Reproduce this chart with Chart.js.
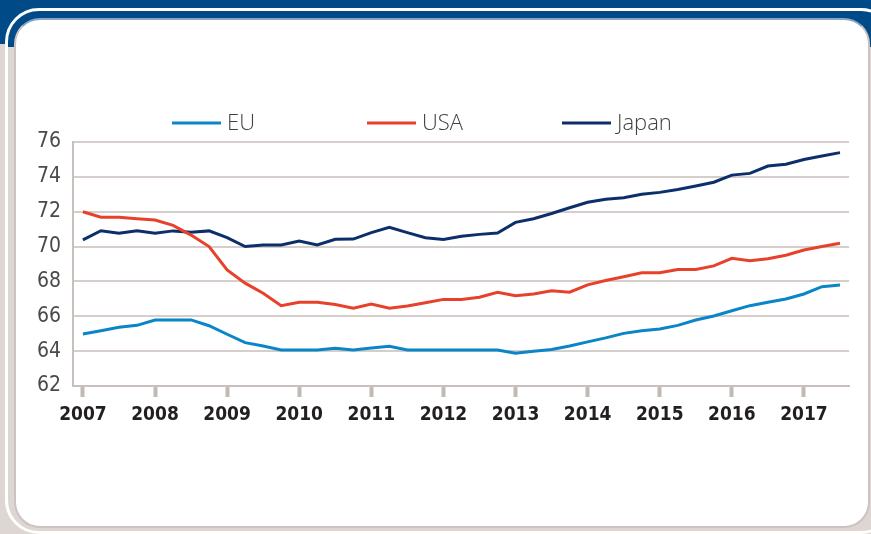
<!DOCTYPE html>
<html>
<head>
<meta charset="utf-8">
<script src="https://cdn.jsdelivr.net/npm/chart.js@4.4.1/dist/chart.umd.min.js"></script>
<style>
    html, body {
        margin: 0;
        padding: 0;
    }
    body {
        width: 871px;
        height: 534px;
        overflow: hidden;
        position: relative;
        background: linear-gradient(to bottom, #004a87 0, #004a87 44px, #ddd6d2 44px);
    }
    .ring {
        position: absolute;
        left: 5px;
        top: 8px;
        width: 884px;
        height: 520px;
        border: 3px solid #fff;
        border-radius: 34px;
        background: linear-gradient(to bottom, #004a87 0, #004a87 36px, #ddd6d2 36px);
    }
    .panel {
        position: absolute;
        left: 14px;
        top: 18px;
        width: 852px;
        height: 506px;
        background: #fff;
        border: 2px solid #cbc3bf;
        border-top-color: #8aa6c6;
        border-radius: 26px;
    }
    #chart {
        position: absolute;
        left: 0;
        top: 0;
    }
</style>
</head>
<body>
<div class="ring"></div>
<div class="panel"></div>
<canvas id="chart" width="871" height="534"></canvas>
<script>
// 연도 눈금 (4분기마다)
const years = ['2007', '2008', '2009', '2010', '2011', '2012', '2013', '2014', '2015', '2016', '2017'];

// 분기별 값: 2007 Q1 ~ 2017 Q3
const euValues = [
    64.98, 65.17, 65.37, 65.48, 65.79, 65.79, 65.79, 65.46,
    64.97, 64.49, 64.30, 64.07, 64.07, 64.07, 64.16, 64.07,
    64.18, 64.28, 64.07, 64.07, 64.07, 64.07, 64.07, 64.07,
    63.88, 64.00, 64.10, 64.30, 64.53, 64.76, 65.02, 65.17,
    65.27, 65.48, 65.79, 66.02, 66.32, 66.61, 66.80, 66.99,
    67.28, 67.70, 67.80
];
const usaValues = [
    72.00, 71.68, 71.68, 71.60, 71.52, 71.22, 70.66, 70.00,
    68.66, 67.90, 67.32, 66.61, 66.80, 66.80, 66.68, 66.46,
    66.70, 66.46, 66.59, 66.78, 66.97, 66.97, 67.09, 67.38,
    67.18, 67.28, 67.47, 67.38, 67.80, 68.05, 68.27, 68.50,
    68.50, 68.69, 68.69, 68.89, 69.33, 69.19, 69.30, 69.50,
    69.80, 70.00, 70.19
];
const japanValues = [
    70.38, 70.91, 70.76, 70.90, 70.76, 70.90, 70.82, 70.90,
    70.51, 70.00, 70.09, 70.09, 70.32, 70.09, 70.42, 70.43,
    70.80, 71.10, 70.80, 70.51, 70.40, 70.59, 70.70, 70.78,
    71.39, 71.60, 71.90, 72.23, 72.54, 72.72, 72.80, 73.00,
    73.11, 73.28, 73.48, 73.69, 74.10, 74.20, 74.62, 74.72,
    75.00, 75.20, 75.39
];

const seriesNames = ['EU', 'USA', 'Japan'];
const seriesColors = ['#0a85c8', '#e8412b', '#0c2f6c'];

// 범례 (선 + 텍스트) 직접 그리기
const lineLegend = {
    id: 'lineLegend',
    afterDraw(chart, args, opts) {
        const ctx = chart.ctx;
        ctx.save();
        ctx.font = '300 22px "Open Sans", sans-serif';
        ctx.textBaseline = 'middle';
        chart.data.datasets.forEach((ds, i) => {
            const x = opts.starts[i];
            ctx.strokeStyle = ds.borderColor;
            ctx.lineWidth = 3;
            ctx.beginPath();
            ctx.moveTo(x, opts.y);
            ctx.lineTo(x + opts.lineLength, opts.y);
            ctx.stroke();
            ctx.fillStyle = '#3f3f3f';
            ctx.fillText(ds.label, x + opts.lineLength + 6, opts.y + 1);
        });
        ctx.restore();
    }
};

function toPoints(values) {
    return values.map((v, i) => ({ x: i, y: v }));
}

const datasets = [euValues, usaValues, japanValues].map((values, i) => ({
    label: seriesNames[i],
    data: toPoints(values),
    borderColor: seriesColors[i],
    backgroundColor: seriesColors[i],
    borderWidth: 3,
    pointRadius: 0,
    tension: 0,
    fill: false
}));

new Chart(document.getElementById('chart').getContext('2d'), {
    type: 'line',
    data: { datasets: datasets },
    options: {
        responsive: false,
        animation: false,
        layout: {
            padding: { left: 23, right: 22, top: 142, bottom: 88 }
        },
        plugins: {
            legend: { display: false },
            tooltip: { enabled: false },
            lineLegend: { starts: [172, 367, 562], lineLength: 49, y: 123 }
        },
        scales: {
            x: {
                type: 'linear',
                min: -0.55,
                max: 42.5,
                afterBuildTicks: (scale) => {
                    scale.ticks = years.map((y, k) => ({ value: k * 4 }));
                },
                afterFit: (scale) => { scale.height = 60; },
                grid: {
                    drawOnChartArea: false,
                    drawTicks: true,
                    tickLength: 11,
                    tickWidth: 4,
                    tickColor: '#c1b9b5'
                },
                border: { display: true, color: '#c8c0bc', width: 2 },
                ticks: {
                    autoSkip: false,
                    maxRotation: 0,
                    padding: 7,
                    color: '#231f20',
                    font: { family: '"DejaVu Sans Condensed", sans-serif', size: 19, weight: 'bold' },
                    callback: (value) => years[Math.round(value / 4)]
                }
            },
            y: {
                min: 62,
                max: 76,
                afterFit: (scale) => { scale.width = 50; },
                grid: {
                    color: '#d5ceca',
                    lineWidth: 2,
                    drawTicks: false
                },
                border: { display: true, color: '#c8c0bc', width: 2 },
                ticks: {
                    stepSize: 2,
                    padding: 12,
                    color: '#4a4a4a',
                    font: { family: '"DejaVu Sans Condensed", sans-serif', size: 21, weight: 'normal' }
                }
            }
        }
    },
    plugins: [lineLegend]
});
</script>
</body>
</html>
